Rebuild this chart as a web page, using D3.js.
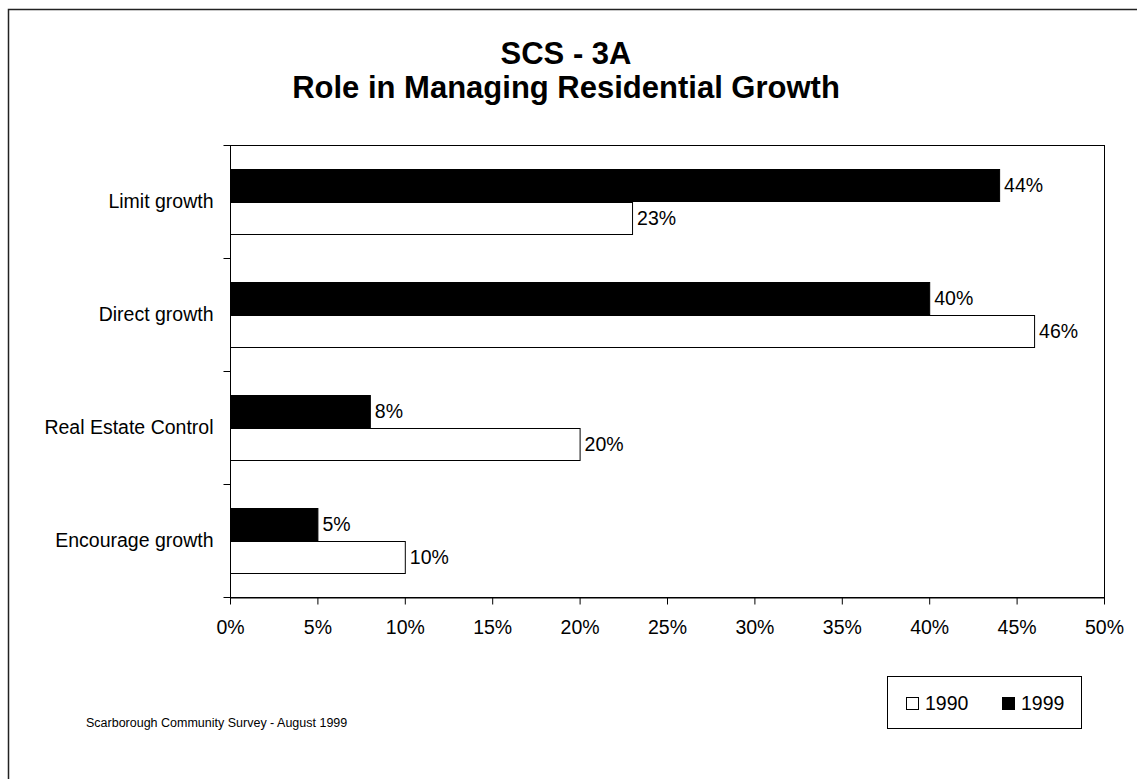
<!DOCTYPE html>
<html><head><meta charset="utf-8">
<script src="https://cdn.jsdelivr.net/npm/d3@7/dist/d3.min.js"></script>
<style>body{margin:0;background:#fff}svg{display:block;font-family:Arial,"Liberation Sans",sans-serif}</style>
</head><body>
<script>
const categories = ["Limit growth","Direct growth","Real Estate Control","Encourage growth"];
const series = ["1999","1990"];
const values1999 = [44,40,8,5];
const values1990 = [23,46,20,10];
const xTicks = [0,5,10,15,20,25,30,35,40,45,50];
const titleLines = ["SCS - 3A","Role in Managing Residential Growth"];
const footer = "Scarborough Community Survey - August 1999";

const W=1137,H=779;
const svg=d3.select("body").append("svg").attr("width",W).attr("height",H);
svg.append("rect").attr("width",W).attr("height",H).attr("fill","#fff");
// outer frame (only left/top visible)
svg.append("path").attr("d",`M8.5,${H} V9.5 H${W}`).attr("fill","none").attr("stroke","#222").attr("stroke-width",1.5);

const m={l:230,t:145,r:1104,b:597};
const x=d3.scaleLinear().domain([0,50]).range([m.l,m.r]);
const y=d3.scaleBand().domain(categories).range([m.t,m.b]);
const inner=d3.scaleBand().domain(series).range([0,y.bandwidth()]).paddingOuter(0.74).paddingInner(0);
const colors={"1999":"#000","1990":"#fff"};

// plot frame
svg.append("rect").attr("x",m.l+0.5).attr("y",m.t+0.5).attr("width",m.r-m.l).attr("height",m.b-m.t).attr("fill","none").attr("stroke","#000").attr("stroke-width",1);

const data=[];
categories.forEach((c,i)=>{data.push({c,s:"1999",v:values1999[i]});data.push({c,s:"1990",v:values1990[i]});});

svg.selectAll("rect.bar").data(data).enter().append("rect").attr("class","bar")
 .attr("x",m.l+0.5).attr("y",d=>Math.round(y(d.c)+inner(d.s))+0.5)
 .attr("width",d=>x(d.v)-m.l).attr("height",Math.round(inner.bandwidth()))
 .attr("fill",d=>colors[d.s]).attr("stroke","#000").attr("stroke-width",1);

svg.selectAll("text.val").data(data).enter().append("text").attr("class","val")
 .attr("x",d=>x(d.v)+5).attr("y",d=>y(d.c)+inner(d.s)+inner.bandwidth()/2).attr("dy","0.35em")
 .attr("font-size",19.5).text(d=>d.v+"%");

// y axis
const ya=svg.append("g").attr("transform",`translate(${m.l+0.5},0)`);
ya.append("line").attr("y1",m.t).attr("y2",m.b+0.5).attr("stroke","#000");
const yt=[m.t, ...categories.map(c=>y(c)+y.bandwidth())];
ya.selectAll("line.t").data(yt).enter().append("line").attr("x1",-7).attr("x2",0)
 .attr("y1",d=>Math.round(d)+0.5).attr("y2",d=>Math.round(d)+0.5).attr("stroke","#000");
ya.selectAll("text").data(categories).enter().append("text")
 .attr("x",-17).attr("y",d=>y(d)+y.bandwidth()/2).attr("dy","0.35em").attr("text-anchor","end")
 .attr("font-size",19.5).text(d=>d);

// x axis
const xa=svg.append("g").attr("transform",`translate(0,${m.b+0.5})`)
 .call(d3.axisBottom(x).tickValues(xTicks).tickFormat(d=>d+"%").tickSize(7).tickSizeOuter(0).tickPadding(16));
xa.select(".domain").attr("stroke","#000");
xa.selectAll("text").attr("font-size",19.5).attr("font-family","Arial, 'Liberation Sans', sans-serif").attr("fill","#000");
xa.selectAll("line").attr("stroke","#000");

// title
svg.selectAll("text.title").data(titleLines).enter().append("text").attr("class","title")
 .attr("x",566).attr("y",(d,i)=>64+i*34).attr("text-anchor","middle")
 .attr("font-size",31).attr("font-weight","bold").text(d=>d);

// legend
const lg=svg.append("g");
lg.append("rect").attr("x",887.5).attr("y",676.5).attr("width",194).attr("height",52).attr("fill","#fff").attr("stroke","#000");
const legItems=[{s:"1990",x:906},{s:"1999",x:1002}];
legItems.forEach(it=>{
 lg.append("rect").attr("x",it.x+0.5).attr("y",697.5).attr("width",12).attr("height",12).attr("fill",colors[it.s]).attr("stroke","#000");
 lg.append("text").attr("x",it.x+19).attr("y",710).attr("font-size",19.5).text(it.s);
});

svg.append("text").attr("x",86).attr("y",727).attr("font-size",12.5).text(footer);
</script>
</body></html>
